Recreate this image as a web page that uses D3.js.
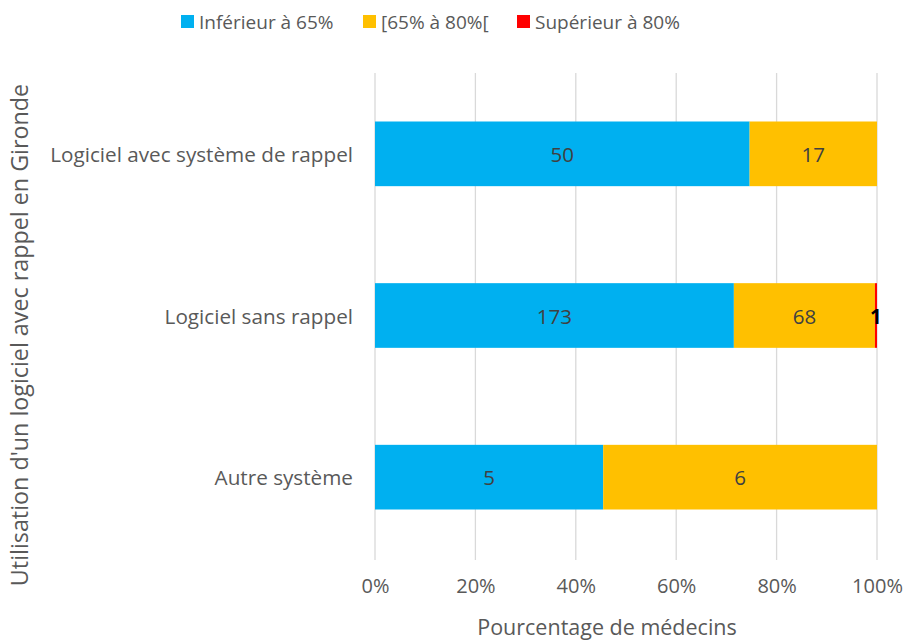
<!DOCTYPE html>
<html><head><meta charset="utf-8">
<script src="https://cdn.jsdelivr.net/npm/d3@7"></script>
<style>body{margin:0;background:#fff;} text{font-family:"Open Sans",sans-serif;}</style>
</head><body>
<svg id="c" width="907" height="640"></svg>
<script>
const categories = ["Logiciel avec système de rappel", "Logiciel sans rappel", "Autre système"];
const seriesNames = ["Inférieur à 65%", "[65% à 80%[", "Supérieur à 80%"];
const inf65 = [50, 173, 5];
const mid65_80 = [17, 68, 6];
const sup80 = [0, 1, 0];
const tickValues = [0, 0.2, 0.4, 0.6, 0.8, 1.0];
const colors = ["#00B0F0", "#FFC000", "#FF0000"];

const svg = d3.select("#c");
const x = d3.scaleLinear().domain([0, 1]).range([375, 877]);
const y = d3.scaleBand().domain(categories).range([73, 558]).paddingInner(0.6).paddingOuter(0.3);

// gridlines
svg.append("g").selectAll("line").data(tickValues).join("line")
  .attr("x1", d => x(d)).attr("x2", d => x(d)).attr("y1", 73).attr("y2", 560)
  .attr("stroke", "#D9D9D9").attr("stroke-width", 1.3);

const data = categories.map((c, i) => {
  const vals = [inf65[i], mid65_80[i], sup80[i]];
  const tot = d3.sum(vals);
  let cum = 0;
  return vals.map((v, k) => { const s = cum / tot; cum += v; return {c, k, v, x0: s, x1: cum / tot}; });
});

const g = svg.append("g");
data.forEach(row => {
  row.forEach(seg => {
    if (seg.v <= 0) return;
    g.append("rect").attr("x", x(seg.x0)).attr("y", y(seg.c))
      .attr("width", x(seg.x1) - x(seg.x0)).attr("height", y.bandwidth())
      .attr("fill", colors[seg.k]);
    const cx = (x(seg.x0) + x(seg.x1)) / 2;
    const t = g.append("text").attr("x", cx).attr("y", y(seg.c) + y.bandwidth() / 2)
      .attr("text-anchor", "middle").attr("dominant-baseline", "central")
      .attr("font-size", 20.5).text(seg.v);
    if (seg.k === 2) t.attr("fill", "#000").attr("font-weight", "bold");
    else t.attr("fill", "#404040");
  });
});

// category labels
svg.append("g").selectAll("text").data(categories).join("text")
  .attr("x", 353).attr("y", d => y(d) + y.bandwidth() / 2)
  .attr("text-anchor", "end").attr("dominant-baseline", "central")
  .attr("font-size", 20.7).attr("fill", "#595959").text(d => d);

// x axis tick labels
const xAxis = d3.axisBottom(x).tickValues(tickValues).tickFormat(d3.format(".0%")).tickSize(0).tickPadding(0);
const ax = svg.append("g").attr("transform", "translate(0,579)").call(xAxis);
ax.select(".domain").remove();
ax.selectAll("text").attr("font-size", 20).attr("fill", "#595959").attr("font-family", "Open Sans, sans-serif");

// axis titles
svg.append("text").attr("x", (375 + 877) / 2 - 19).attr("y", 635).attr("text-anchor", "middle")
  .attr("font-size", 21.5).attr("fill", "#595959").text("Pourcentage de médecins");
svg.append("text").attr("transform", "translate(28,335) rotate(-90)").attr("text-anchor", "middle")
  .attr("font-size", 23.3).attr("fill", "#595959").text("Utilisation d'un logiciel avec rappel en Gironde");

// legend
const legX = [181, 363, 517];
const leg = svg.append("g");
seriesNames.forEach((n, i) => {
  leg.append("rect").attr("x", legX[i]).attr("y", 15).attr("width", 13).attr("height", 13).attr("fill", colors[i]);
  leg.append("text").attr("x", legX[i] + 18).attr("y", 22).attr("dominant-baseline", "central")
    .attr("font-size", 19).attr("fill", "#595959").text(n);
});
</script>
</body></html>
